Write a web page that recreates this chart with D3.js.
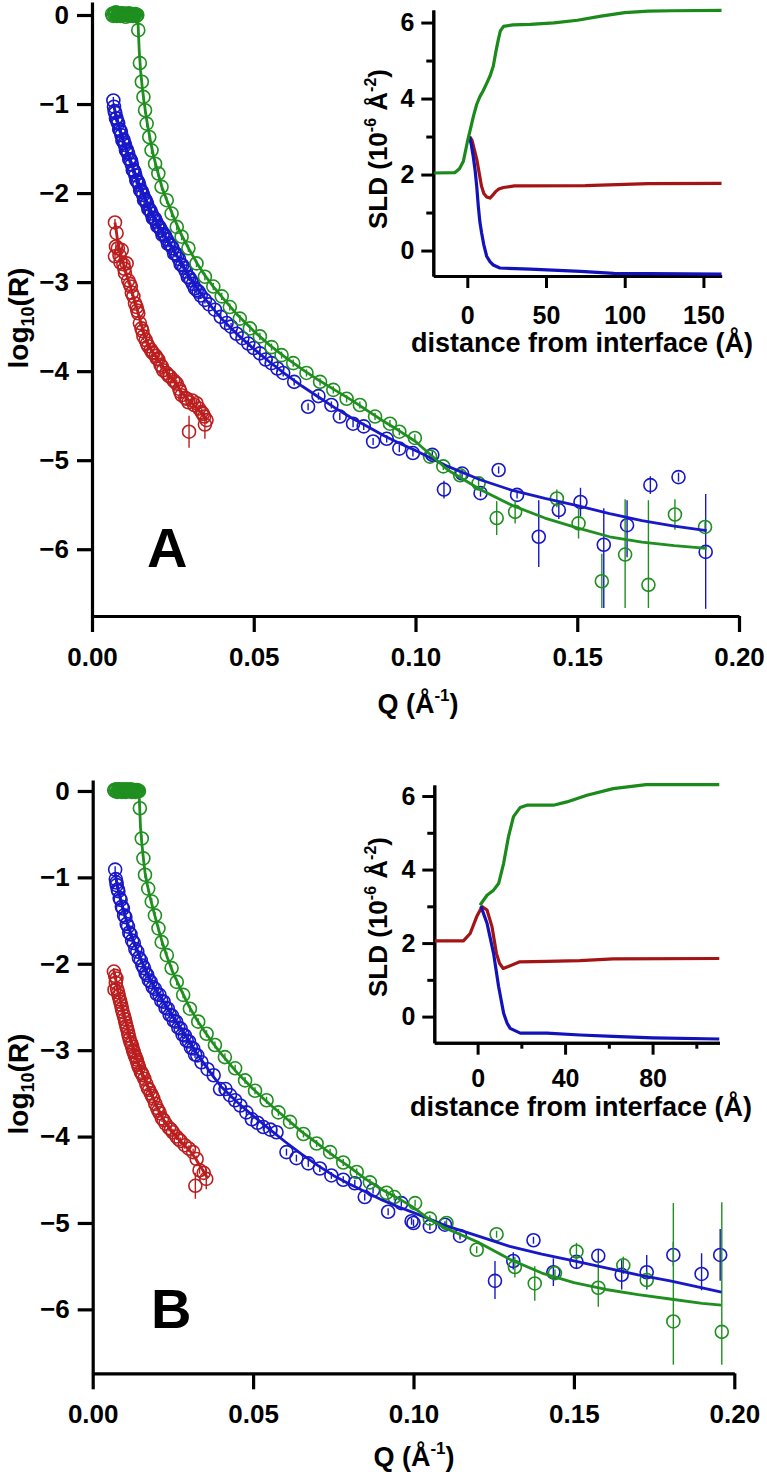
<!DOCTYPE html>
<html>
<head>
<meta charset="utf-8">
<script src="https://cdn.jsdelivr.net/npm/d3@7"></script>
<style>
  body { margin: 0; background: #fff; }
  svg { display: block; }
  text { font-family: "Liberation Sans", Arial, sans-serif; font-weight: bold; fill: #000; }
</style>
</head>
<body>
<svg id="chart" width="767" height="1476"></svg>
<script>
// ---------------- tick values ----------------
const qTicks = [0, 0.05, 0.10, 0.15, 0.20];
const logRTicks = [0, -1, -2, -3, -4, -5, -6];
const sldTicks = [0, 2, 4, 6];
const sldMinorTicks = [1, 3, 5];
const distTicksA = [0, 50, 100, 150];
const distTicksB = [0, 40, 80];
const distMinorTicksB = [20, 60, 100];

// ---------------- Panel A reflectivity data: [Q, log10R, errUp, errDown] ----------------
const A_greenPts = [
  [0.0062,0.01],[0.0065,-0.01],[0.0068,0.02],[0.0071,0.0],[0.0074,0.03],[0.0077,-0.01],[0.0080,0.02],
  [0.0083,0.0],[0.0086,0.02],[0.0089,-0.01],[0.0092,0.01],[0.0095,0.02],[0.0098,0.0],[0.0101,0.01],
  [0.0104,-0.02],[0.0107,0.01],[0.0110,0.0],[0.0113,0.02],[0.0116,-0.01],[0.0119,0.01],[0.0122,0.0],
  [0.0125,0.01],[0.0128,-0.01],[0.0131,0.0],[0.0134,0.01],[0.0137,-0.01],[0.0140,0.0],
  [0.0143,-0.17],[0.0148,-0.54],[0.0154,-0.75],[0.0159,-0.92],[0.0164,-1.07],[0.0169,-1.22],
  [0.0177,-1.37],[0.0184,-1.52],[0.0195,-1.67],[0.0205,-1.78],[0.0215,-1.93],[0.0231,-2.08],
  [0.0246,-2.23],[0.0262,-2.38],[0.0277,-2.49],[0.0298,-2.62],[0.0323,-2.79],[0.0349,-2.94],
  [0.0375,-3.05],[0.0401,-3.16],[0.0426,-3.28],[0.0457,-3.41],[0.0488,-3.52],[0.0519,-3.61],
  [0.0555,-3.73],[0.0586,-3.82],[0.0622,-3.91],[0.0663,-4.02],[0.0705,-4.12],[0.0746,-4.21],
  [0.0787,-4.31],[0.0828,-4.38],[0.0875,-4.51],[0.0921,-4.59],[0.0950,-4.68],[0.0998,-4.75],
  [0.1045,-4.96],[0.1086,-5.07],[0.1138,-5.17],[0.1195,-5.26],[0.1251,-5.65,0.19,0.19],
  [0.1308,-5.58,0.13,0.13],[0.1437,-5.43,0.1,0.1],[0.1504,-5.71,0.17,0.17],[0.1576,-6.36,0.31,0.3],
  [0.1648,-6.06,0.62,0.6],[0.1720,-6.40,0.95,0.26],[0.1802,-5.61,0.17,0.17],[0.1895,-5.75,0.06,0.06]
];
const A_bluePts = [
  [0.0066,-0.96],[0.0068,-1.03],[0.0070,-1.08],[0.0072,-1.10],[0.0074,-1.16],[0.0076,-1.16],[0.0079,-1.20],
  [0.0081,-1.22],[0.0084,-1.28],[0.0086,-1.29],[0.0089,-1.31],[0.0091,-1.35],[0.0094,-1.41],[0.0097,-1.40],
  [0.0100,-1.44],[0.0102,-1.46],[0.0105,-1.52],[0.0107,-1.51],[0.0110,-1.54],[0.0112,-1.56],[0.0115,-1.62],
  [0.0118,-1.62],[0.0121,-1.64],[0.0123,-1.68],[0.0126,-1.74],[0.0128,-1.74],[0.0131,-1.76],[0.0134,-1.80],
  [0.0137,-1.86],[0.0140,-1.86],[0.0143,-1.88],[0.0146,-1.91],[0.0149,-1.97],[0.0152,-1.97],[0.0155,-1.99],
  [0.0158,-2.02],[0.0161,-2.08],[0.0164,-2.07],[0.0167,-2.09],[0.0170,-2.12],[0.0174,-2.18],[0.0177,-2.18],
  [0.0181,-2.20],[0.0184,-2.23],[0.0188,-2.28],[0.0191,-2.28],[0.0195,-2.29],[0.0198,-2.32],[0.0202,-2.37],
  [0.0206,-2.37],[0.0210,-2.39],[0.0214,-2.42],[0.0218,-2.47],[0.0222,-2.46],[0.0226,-2.48],[0.0231,-2.52],
  [0.0235,-2.57],[0.0240,-2.57],[0.0245,-2.59],[0.0249,-2.62],[0.0254,-2.68],[0.0259,-2.68],[0.0264,-2.70],
  [0.0269,-2.74],[0.0274,-2.80],[0.0279,-2.81],[0.0285,-2.84],[0.0290,-2.88],[0.0296,-2.94],[0.0301,-2.95],
  [0.0306,-2.98],[0.0312,-3.02],[0.0318,-3.07],[0.0324,-3.09],[0.0330,-3.11],[0.0336,-3.15],[0.0349,-3.20],
  [0.0362,-3.25],[0.0380,-3.31],[0.0398,-3.39],[0.0416,-3.46],[0.0430,-3.50],[0.0447,-3.58],[0.0465,-3.63],
  [0.0483,-3.69],[0.0500,-3.74],[0.0519,-3.80],[0.0537,-3.87],[0.0555,-3.91],[0.0573,-3.97],[0.0591,-4.02],
  [0.0625,-4.12],[0.0668,-4.40],[0.0700,-4.28],[0.0740,-4.38],[0.0766,-4.51],[0.0807,-4.59],[0.0840,-4.62],
  [0.0869,-4.79],[0.0911,-4.76],[0.0950,-4.87],[0.0992,-4.92],[0.1052,-4.94],[0.1088,-5.33,0.1,0.1],
  [0.1144,-5.15],[0.1201,-5.37],[0.1257,-5.11],[0.1314,-5.39],[0.1381,-5.86,0.41,0.34],[0.1443,-5.56,0.1,0.1],
  [0.1510,-5.47,0.16,0.16],[0.1582,-5.95,0.41,0.71],[0.1654,-5.73,0.28,0.36],[0.1726,-5.28,0.1,0.1],
  [0.1813,-5.19,0.05,0.05],[0.1897,-6.03,0.65,0.64]
];
const A_redPts = [
  [0.0071,-2.33],[0.0076,-2.45],[0.0071,-2.71],[0.0074,-2.60],[0.0080,-2.62],[0.0085,-2.70],[0.0092,-2.64],
  [0.0088,-2.78],[0.0097,-2.80],[0.0100,-2.85],[0.0102,-2.90],[0.0107,-2.79],[0.0112,-2.98],[0.0117,-3.02],
  [0.0120,-3.05],[0.0123,-3.12],[0.0128,-3.16],[0.0133,-3.24],[0.0138,-3.28],[0.0140,-3.32],[0.0143,-3.35],
  [0.0148,-3.46],[0.0153,-3.52],[0.0156,-3.55],[0.0159,-3.61],[0.0166,-3.65],[0.0170,-3.69],[0.0174,-3.72],
  [0.0182,-3.76],[0.0186,-3.79],[0.0190,-3.80],[0.0197,-3.83],[0.0201,-3.86],[0.0205,-3.87],[0.0212,-3.93],
  [0.0216,-3.95],[0.0220,-3.99],[0.0230,-4.02],[0.0236,-4.05],[0.0241,-4.06],[0.0251,-4.10],[0.0256,-4.12],
  [0.0262,-4.14],[0.0270,-4.20],[0.0273,-4.23],[0.0277,-4.27],[0.0288,-4.30],[0.0293,-4.31],[0.0298,-4.35],
  [0.0310,-4.33],[0.0316,-4.38],[0.0323,-4.36],[0.0331,-4.42],[0.0339,-4.46],[0.0343,-4.48],[0.0347,-4.51],
  [0.0354,-4.55],[0.0300,-4.68,0.18,0.18],[0.0349,-4.60,0.12,0.16]
];
// fitted model curves, panel A: [Q, log10R]
const A_greenFit = [
  [0.0055,0.0],[0.0141,0.0],[0.0143,-0.15],[0.0146,-0.4],[0.0150,-0.62],[0.0155,-0.8],[0.0160,-0.95],
  [0.0165,-1.08],[0.0170,-1.2],[0.0180,-1.4],[0.0190,-1.58],[0.0200,-1.72],[0.0215,-1.92],[0.023,-2.07],
  [0.025,-2.25],[0.0275,-2.46],[0.030,-2.63],[0.0325,-2.79],[0.035,-2.93],[0.0375,-3.05],[0.040,-3.16],
  [0.045,-3.37],[0.050,-3.55],[0.055,-3.71],[0.060,-3.85],[0.065,-3.98],[0.070,-4.10],[0.075,-4.21],
  [0.080,-4.32],[0.085,-4.44],[0.090,-4.56],[0.095,-4.67],[0.1,-4.79],[0.105,-4.95],[0.11,-5.11],
  [0.12,-5.33],[0.13,-5.51],[0.14,-5.65],[0.15,-5.76],[0.16,-5.86],[0.17,-5.92],[0.18,-5.96],[0.19,-5.99]
];
const A_blueFit = [
  [0.0066,-1.0],[0.008,-1.2],[0.01,-1.45],[0.0125,-1.7],[0.015,-1.93],[0.0175,-2.14],[0.02,-2.32],
  [0.0225,-2.48],[0.025,-2.63],[0.0275,-2.78],[0.03,-2.93],[0.0325,-3.07],[0.035,-3.19],[0.0375,-3.3],
  [0.04,-3.41],[0.045,-3.59],[0.05,-3.75],[0.055,-3.9],[0.06,-4.04],[0.065,-4.17],[0.07,-4.29],[0.075,-4.41],
  [0.08,-4.52],[0.085,-4.62],[0.09,-4.72],[0.095,-4.81],[0.1,-4.89],[0.11,-5.07],[0.12,-5.22],[0.13,-5.34],
  [0.14,-5.43],[0.15,-5.51],[0.16,-5.6],[0.17,-5.68],[0.18,-5.74],[0.19,-5.79]
];
const A_redFit = [
  [0.0071,-2.33],[0.008,-2.55],[0.009,-2.7],[0.010,-2.83],[0.011,-2.95],[0.012,-3.07],[0.013,-3.19],
  [0.014,-3.31],[0.015,-3.44],[0.016,-3.56],[0.017,-3.66],[0.018,-3.74],[0.019,-3.8],[0.020,-3.85],
  [0.022,-3.95],[0.024,-4.05],[0.026,-4.14],[0.028,-4.25],[0.030,-4.33],[0.032,-4.4],[0.034,-4.48],
  [0.0355,-4.55]
];

// ---------------- Panel B reflectivity data ----------------
const B_greenPts = [
  [0.0067,0.01],[0.0070,0.0],[0.0073,0.02],[0.0076,-0.01],[0.0079,0.01],[0.0082,0.02],[0.0085,0.0],
  [0.0088,0.01],[0.0091,-0.01],[0.0094,0.02],[0.0097,0.0],[0.0100,0.01],[0.0103,-0.01],[0.0106,0.02],
  [0.0109,0.0],[0.0112,0.01],[0.0115,0.0],[0.0118,0.02],[0.0121,-0.01],[0.0124,0.01],[0.0127,0.0],
  [0.0130,0.01],[0.0133,-0.01],[0.0136,0.0],[0.0139,0.01],[0.0142,0.0],[0.0144,0.0],
  [0.0147,-0.20],[0.0153,-0.55],[0.0158,-0.78],[0.0163,-0.97],[0.0173,-1.13],[0.0184,-1.28],[0.0194,-1.44],
  [0.0205,-1.59],[0.0215,-1.75],[0.0231,-1.90],[0.0246,-2.05],[0.0262,-2.21],[0.0282,-2.36],[0.0303,-2.52],
  [0.0329,-2.67],[0.0355,-2.81],[0.0381,-2.94],[0.0412,-3.08],[0.0444,-3.21],[0.0475,-3.35],[0.0506,-3.47],
  [0.0542,-3.58],[0.0579,-3.72],[0.0615,-3.83],[0.0657,-3.97],[0.0698,-4.08],[0.0740,-4.18],[0.0781,-4.30],
  [0.0823,-4.41],[0.0864,-4.53],[0.0916,-4.65],[0.0940,-4.70],[0.1005,-4.77],[0.1051,-4.95],[0.1103,-5.00],
  [0.1197,-5.31],[0.1259,-5.13],[0.1316,-5.51,0.12,0.12],[0.1378,-5.70,0.2,0.2],[0.1441,-5.58],
  [0.1508,-5.33,0.1,0.1],[0.1576,-5.75,0.3,0.22],[0.1654,-5.49,0.1,0.1],[0.1727,-5.66,0.1,0.1],
  [0.1810,-6.14,1.37,0.5],[0.1961,-6.26,1.5,0.38]
];
const B_bluePts = [
  [0.0070,-0.91],[0.0072,-1.02],[0.0074,-1.06],[0.0075,-1.09],[0.0078,-1.14],[0.0080,-1.16],[0.0084,-1.24],
  [0.0087,-1.26],[0.0091,-1.34],[0.0094,-1.36],[0.0098,-1.44],[0.0102,-1.46],[0.0106,-1.54],[0.0110,-1.57],
  [0.0114,-1.64],[0.0118,-1.66],[0.0123,-1.73],[0.0128,-1.76],[0.0133,-1.83],[0.0139,-1.86],[0.0144,-1.93],
  [0.0150,-1.96],[0.0155,-2.02],[0.0160,-2.05],[0.0165,-2.11],[0.0170,-2.13],[0.0175,-2.19],[0.0181,-2.21],
  [0.0187,-2.27],[0.0194,-2.29],[0.0200,-2.35],[0.0208,-2.36],[0.0214,-2.43],[0.0221,-2.44],[0.0227,-2.51],
  [0.0234,-2.52],[0.0240,-2.59],[0.0247,-2.60],[0.0253,-2.66],[0.0260,-2.67],[0.0267,-2.74],[0.0274,-2.75],
  [0.0280,-2.82],[0.0287,-2.83],[0.0293,-2.89],[0.0300,-2.90],[0.0306,-2.97],[0.0313,-2.98],[0.0319,-3.05],
  [0.0326,-3.06],[0.0339,-3.14],[0.0358,-3.22],[0.0377,-3.29],[0.0397,-3.45],[0.0414,-3.45],[0.0428,-3.52],
  [0.0444,-3.58],[0.0460,-3.64],[0.0479,-3.72],[0.0496,-3.80],[0.0514,-3.84],[0.0532,-3.89],[0.0554,-3.92],
  [0.0573,-3.95],[0.0604,-4.18],[0.0635,-4.25],[0.0672,-4.31],[0.0708,-4.37],[0.0744,-4.45],[0.0781,-4.50],
  [0.0817,-4.54],[0.0848,-4.70],[0.0874,-4.62],[0.0921,-4.87],[0.0962,-4.77],[0.0994,-4.98],[0.1000,-5.00],
  [0.1051,-5.04],[0.1098,-5.02],[0.1145,-5.15],[0.1254,-5.67,0.23,0.21],[0.1311,-5.44,0.1,0.1],[0.1374,-5.20],
  [0.1436,-5.57,0.16,0.16],[0.1508,-5.45,0.08,0.08],[0.1576,-5.38,0.08,0.08],[0.1649,-5.60,0.17,0.17],
  [0.1727,-5.57,0.2,0.2],[0.1810,-5.37,0.15,0.13],[0.1898,-5.59,0.24,0.19],[0.1956,-5.37,0.3,0.3]
];
const B_redPts = [
  [0.0066,-2.09],[0.0070,-2.14],[0.0074,-2.17],[0.0068,-2.30],[0.0076,-2.29],[0.0072,-2.22],[0.0081,-2.37],
  [0.0079,-2.33],[0.0086,-2.44],[0.0084,-2.41],[0.0091,-2.52],[0.0089,-2.48],[0.0097,-2.60],[0.0094,-2.56],
  [0.0102,-2.68],[0.0100,-2.64],[0.0107,-2.75],[0.0105,-2.72],[0.0112,-2.83],[0.0110,-2.79],[0.0118,-2.91],
  [0.0115,-2.87],[0.0123,-2.96],[0.0121,-2.93],[0.0128,-3.02],[0.0126,-3.00],[0.0134,-3.08],[0.0131,-3.06],
  [0.0139,-3.14],[0.0137,-3.11],[0.0144,-3.20],[0.0142,-3.17],[0.0150,-3.25],[0.0156,-3.29],[0.0153,-3.27],
  [0.0161,-3.33],[0.0167,-3.39],[0.0172,-3.44],[0.0176,-3.46],[0.0181,-3.50],[0.0185,-3.53],[0.0189,-3.56],
  [0.0195,-3.62],[0.0201,-3.67],[0.0205,-3.70],[0.0209,-3.73],[0.0216,-3.79],[0.0221,-3.81],[0.0227,-3.85],
  [0.0238,-3.90],[0.0244,-3.92],[0.0250,-3.95],[0.0261,-4.00],[0.0268,-4.03],[0.0274,-4.05],[0.0287,-4.10],
  [0.0300,-4.14],[0.0313,-4.18],[0.0324,-4.26],[0.0333,-4.39],[0.0346,-4.42],[0.0354,-4.49,0.12,0.12],
  [0.0320,-4.57,0.15,0.15]
];
const B_greenFit = [
  [0.0060,0.0],[0.0144,0.0],[0.0146,-0.15],[0.0149,-0.42],[0.0153,-0.6],[0.0158,-0.78],[0.0163,-0.94],
  [0.017,-1.08],[0.018,-1.25],[0.019,-1.39],[0.020,-1.53],[0.0215,-1.73],[0.023,-1.9],[0.025,-2.1],
  [0.0275,-2.3],[0.030,-2.49],[0.0325,-2.65],[0.035,-2.79],[0.0375,-2.92],[0.040,-3.04],[0.045,-3.26],
  [0.050,-3.45],[0.055,-3.62],[0.060,-3.78],[0.065,-3.94],[0.070,-4.08],[0.075,-4.22],[0.080,-4.35],
  [0.085,-4.49],[0.090,-4.61],[0.095,-4.71],[0.1,-4.82],[0.105,-4.96],[0.11,-5.06],[0.12,-5.22],[0.13,-5.42],
  [0.14,-5.58],[0.15,-5.69],[0.16,-5.77],[0.17,-5.83],[0.18,-5.88],[0.19,-5.93],[0.196,-5.95]
];
const B_blueFit = [
  [0.0070,-0.95],[0.008,-1.15],[0.01,-1.43],[0.0125,-1.71],[0.015,-1.94],[0.0175,-2.15],[0.02,-2.32],
  [0.0225,-2.47],[0.025,-2.61],[0.0275,-2.75],[0.03,-2.89],[0.0325,-3.04],[0.035,-3.17],[0.0375,-3.3],
  [0.04,-3.42],[0.045,-3.6],[0.05,-3.76],[0.055,-3.91],[0.06,-4.06],[0.065,-4.2],[0.07,-4.33],
  [0.075,-4.45],[0.08,-4.55],[0.085,-4.64],[0.09,-4.73],[0.095,-4.81],[0.1,-4.88],[0.11,-5.03],
  [0.12,-5.15],[0.13,-5.27],[0.14,-5.36],[0.15,-5.44],[0.16,-5.52],[0.17,-5.6],[0.18,-5.67],[0.19,-5.75],
  [0.196,-5.80]
];
const B_redFit = [
  [0.0066,-2.08],[0.008,-2.33],[0.01,-2.62],[0.012,-2.89],[0.014,-3.12],[0.016,-3.31],[0.018,-3.48],
  [0.02,-3.65],[0.022,-3.8],[0.024,-3.91],[0.026,-4.0],[0.028,-4.08],[0.03,-4.15],[0.032,-4.25],
  [0.034,-4.37],[0.0358,-4.48]
];

// ---------------- SLD profiles: [distance (Å), SLD (1e-6 Å^-2)] ----------------
const A_greenSLD = [
  [-21,2.04],[-8,2.05],[-5,2.15],[-2.5,2.35],[0,2.85],[2,3.2],[4,3.55],[6,3.85],[8,4.05],[10,4.2],
  [12.3,4.4],[14.5,4.6],[16.5,4.85],[18,5.2],[19.7,5.55],[21,5.78],[23,5.9],[29,5.94],[40,5.95],
  [55,5.99],[70,6.06],[85,6.17],[100,6.26],[115,6.3],[130,6.31],[161.5,6.32]
];
const A_redSLD = [
  [1.5,3.0],[3,2.9],[4.5,2.65],[6,2.4],[7.5,2.05],[9,1.7],[10.5,1.5],[12.3,1.41],[14.4,1.38],[16,1.45],
  [18,1.55],[20,1.62],[23,1.66],[30,1.7],[75,1.71],[115,1.76],[161.5,1.77]
];
const A_blueSLD = [
  [1.3,3.0],[2.5,2.8],[3.8,2.47],[5,2.1],[6,1.68],[7,1.16],[8,0.75],[9.1,0.46],[10.5,0.15],[12.3,-0.15],
  [14.5,-0.3],[16.5,-0.38],[20.7,-0.46],[40,-0.49],[72,-0.55],[93,-0.6],[161.5,-0.62]
];
const B_redSLD = [
  [-19.5,2.06],[-6.5,2.06],[-3.4,2.26],[-0.4,2.72],[2,2.99],[4.3,2.9],[6.6,2.44],[8.6,1.72],[10,1.45],
  [11.7,1.31],[14,1.36],[19.3,1.49],[31.5,1.5],[46.8,1.52],[62,1.57],[110.5,1.58]
];
const B_blueSLD = [
  [1.5,3.0],[4.3,2.54],[7.3,1.72],[9.6,0.82],[11.9,0.09],[13.5,-0.18],[14.9,-0.32],[19.5,-0.45],
  [31.7,-0.45],[46.9,-0.5],[62,-0.54],[80,-0.58],[110.5,-0.61]
];
const B_greenSLD = [
  [1.1,3.03],[4.3,3.3],[7.3,3.44],[9.6,3.62],[11.9,4.17],[14.1,4.89],[16.4,5.44],[19.5,5.69],[22.5,5.75],
  [34.7,5.75],[40.8,5.84],[50,6.02],[62,6.2],[77,6.31],[110.5,6.31]
];

// ---------------- drawing ----------------
const COL = { green: "#1f8f1f", blue: "#1818c8", red: "#bb1e1e" };
const SLDCOL = { green: "#1a8a1a", blue: "#1212bb", red: "#a31414" };
const FONT = "'Liberation Sans', Arial, sans-serif";
const svg = d3.select("#chart");
svg.append("rect").attr("width", 767).attr("height", 1476).attr("fill", "#fff");

function styleAxis(g, w) {
  g.select(".domain").attr("stroke", "#000").attr("stroke-width", w);
  g.selectAll(".tick line").attr("stroke", "#000").attr("stroke-width", w);
  g.selectAll(".tick text").attr("font-family", FONT).attr("font-weight", "bold").attr("fill", "#000");
}

function mainPanel(cfg) {
  const g = svg.append("g");
  const x = d3.scaleLinear().domain([0, 0.2]).range(cfg.xr);
  const y = d3.scaleLinear().domain(cfg.yd).range(cfg.yr);

  // axes
  const ya = g.append("g").attr("transform", `translate(${cfg.xr[0]},0)`)
    .call(d3.axisLeft(y).tickValues(logRTicks).tickSize(15).tickSizeOuter(0).tickPadding(8)
      .tickFormat(d3.format("d")));
  ya.selectAll(".tick text").attr("font-size", 26);
  styleAxis(ya, 3.2);
  const xa = g.append("g").attr("transform", `translate(0,${cfg.yr[1]})`)
    .call(d3.axisBottom(x).tickValues(qTicks).tickSize(16).tickSizeOuter(0).tickPadding(cfg.xpad)
      .tickFormat(d3.format(".2f")));
  xa.selectAll(".tick text").attr("font-size", 26);
  styleAxis(xa, 3.2);

  // data
  const line = d3.line().x(d => x(d[0])).y(d => y(d[1]));
  const series = [
    { pts: cfg.red, fit: cfg.redFit, c: COL.red },
    { pts: cfg.blue, fit: cfg.blueFit, c: COL.blue },
    { pts: cfg.green, fit: cfg.greenFit, c: COL.green }
  ];
  series.forEach(s => {
    const pg = g.append("g");
    pg.selectAll("line.err").data(s.pts).join("line")
      .attr("x1", d => x(d[0])).attr("x2", d => x(d[0]))
      .attr("y1", d => y(d[1] + (d[2] !== undefined ? d[2] : 0.04)))
      .attr("y2", d => y(d[1] - (d[3] !== undefined ? d[3] : 0.04)))
      .attr("stroke", s.c).attr("stroke-width", 1.4);
    pg.selectAll("circle").data(s.pts).join("circle")
      .attr("cx", d => x(d[0])).attr("cy", d => y(d[1])).attr("r", 6.5)
      .attr("fill", "none").attr("stroke", s.c).attr("stroke-width", 1.6);
  });
  series.forEach(s => {
    g.append("path").datum(s.fit).attr("d", line)
      .attr("fill", "none").attr("stroke", s.c).attr("stroke-width", 2.8).attr("stroke-linejoin", "round");
  });

  // titles
  const yt = g.append("text").attr("transform", `translate(${cfg.ytx},${cfg.yty}) rotate(-90)`)
    .attr("text-anchor", "middle").attr("font-size", 28);
  yt.append("tspan").text("log");
  yt.append("tspan").attr("font-size", 18).attr("dy", 6).text("10");
  yt.append("tspan").attr("dy", -6).text("(R)");

  const xt = g.append("text").attr("x", cfg.xtx).attr("y", cfg.xty).attr("text-anchor", "middle").attr("font-size", 27);
  xt.append("tspan").text("Q (Å");
  xt.append("tspan").attr("font-size", 17).attr("dy", -12).text("-1");
  xt.append("tspan").attr("dy", 12).text(")");

  g.append("text").attr("x", cfg.lx).attr("y", cfg.ly).attr("font-size", 56)
    .attr("font-family", "'Open Sans', sans-serif").attr("font-weight", 700).text(cfg.letter);
}

function insetPanel(cfg) {
  const g = svg.append("g");
  const x = d3.scaleLinear().domain(cfg.xd).range(cfg.xr);
  const y = d3.scaleLinear().domain(cfg.yd).range(cfg.yr);

  const yaMinor = g.append("g").attr("transform", `translate(${cfg.xr[0]},0)`)
    .call(d3.axisLeft(y).tickValues(sldMinorTicks).tickSize(7).tickSizeOuter(0).tickFormat(""));
  styleAxis(yaMinor, 3);
  const ya = g.append("g").attr("transform", `translate(${cfg.xr[0]},0)`)
    .call(d3.axisLeft(y).tickValues(sldTicks).tickSize(12).tickSizeOuter(0).tickPadding(7).tickFormat(d3.format("d")));
  ya.selectAll(".tick text").attr("font-size", 25);
  styleAxis(ya, 3);

  if (cfg.xminor) {
    const xaMinor = g.append("g").attr("transform", `translate(0,${cfg.yr[1]})`)
      .call(d3.axisBottom(x).tickValues(cfg.xminor).tickSize(6).tickSizeOuter(0).tickFormat(""));
    styleAxis(xaMinor, 3);
  }
  const xa = g.append("g").attr("transform", `translate(0,${cfg.yr[1]})`)
    .call(d3.axisBottom(x).tickValues(cfg.xticks).tickSize(12).tickSizeOuter(0).tickPadding(cfg.xpad).tickFormat(d3.format("d")));
  xa.selectAll(".tick text").attr("font-size", 25);
  styleAxis(xa, 3);

  const line = d3.line().x(d => x(d[0])).y(d => y(d[1]));
  cfg.lines.forEach(l => {
    g.append("path").datum(l.data).attr("d", line).attr("fill", "none")
      .attr("stroke", l.c).attr("stroke-width", 3.2).attr("stroke-linejoin", "round");
  });

  const yt = g.append("text").attr("transform", `translate(${cfg.ytx},${cfg.yty}) rotate(-90)`)
    .attr("text-anchor", "middle").attr("font-size", 26);
  yt.append("tspan").text("SLD (10");
  yt.append("tspan").attr("font-size", 16).attr("dy", -11).text("-6");
  yt.append("tspan").attr("dy", 11).text(" Å");
  yt.append("tspan").attr("font-size", 16).attr("dy", -11).text("-2");
  yt.append("tspan").attr("dy", 11).text(")");

  g.append("text").attr("x", cfg.xtx).attr("y", cfg.xty).attr("text-anchor", "middle").attr("font-size", 27)
    .text("distance from interface (Å)");
}

// Panel A
mainPanel({
  xr: [92, 739], yd: [0.146, -6.75], yr: [2, 616], xpad: 16,
  red: A_redPts, blue: A_bluePts, green: A_greenPts,
  redFit: A_redFit, blueFit: A_blueFit, greenFit: A_greenFit,
  ytx: 28, yty: 318, xtx: 418, xty: 713, lx: 147, ly: 567, letter: "A"
});
insetPanel({
  xd: [-21.6, 161.6], xr: [433.3, 721.7], yd: [6.33, -0.67], yr: [10, 276],
  xticks: distTicksA, xminor: null, xpad: 18,
  lines: [
    { data: A_redSLD, c: SLDCOL.red },
    { data: A_blueSLD, c: SLDCOL.blue },
    { data: A_greenSLD, c: SLDCOL.green }
  ],
  ytx: 387, yty: 149, xtx: 582, xty: 352
});

// Panel B
mainPanel({
  xr: [92.7, 734.3], yd: [0.127, -6.74], yr: [780, 1373.3], xpad: 15,
  red: B_redPts, blue: B_bluePts, green: B_greenPts,
  redFit: B_redFit, blueFit: B_blueFit, greenFit: B_greenFit,
  ytx: 28, yty: 1084, xtx: 414, xty: 1466, lx: 151, ly: 1328, letter: "B"
});
insetPanel({
  xd: [-19.8, 110.6], xr: [434.3, 719.5], yd: [6.3, -0.71], yr: [785, 1042.7],
  xticks: distTicksB, xminor: distMinorTicksB, xpad: 15,
  lines: [
    { data: B_redSLD, c: SLDCOL.red },
    { data: B_blueSLD, c: SLDCOL.blue },
    { data: B_greenSLD, c: SLDCOL.green }
  ],
  ytx: 387, yty: 917, xtx: 581, xty: 1116
});
</script>
</body>
</html>
